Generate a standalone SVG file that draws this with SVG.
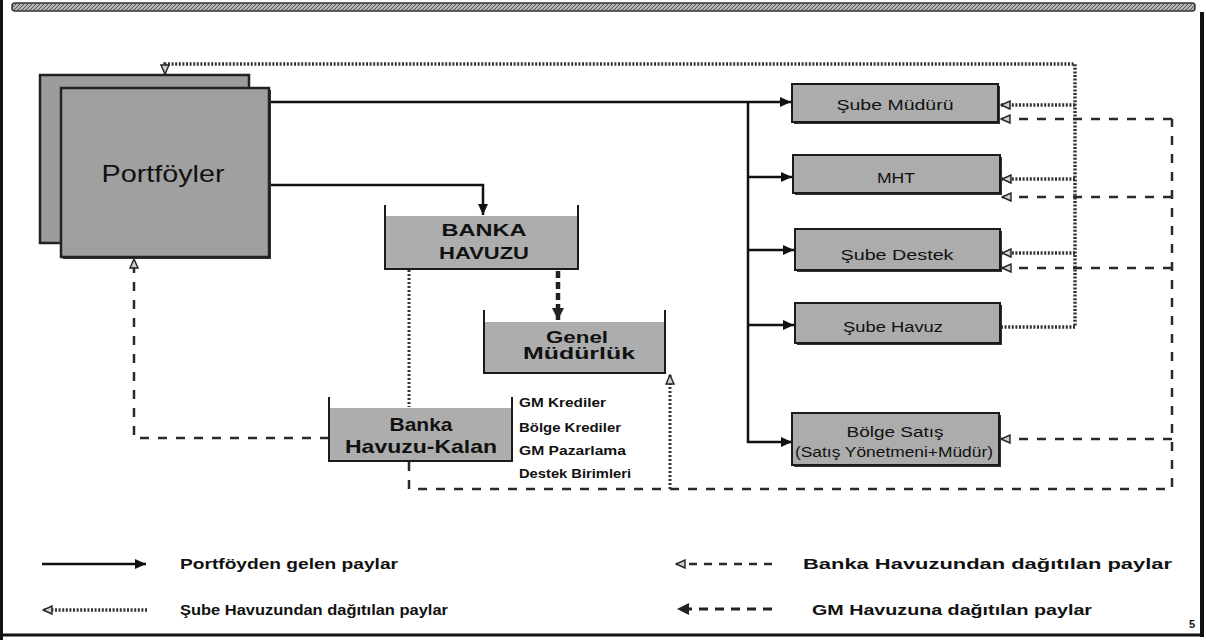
<svg xmlns="http://www.w3.org/2000/svg" width="1206" height="640" viewBox="0 0 1206 640">
  <defs>
    <marker id="arrowSolid" markerUnits="userSpaceOnUse" markerWidth="12" markerHeight="10" refX="11" refY="5" orient="auto">
      <path d="M0,0 L11,5 L0,10 z" fill="#111"/>
    </marker>
    <marker id="arrowHollow" markerUnits="userSpaceOnUse" markerWidth="11" markerHeight="10" refX="10" refY="5" orient="auto">
      <path d="M1,1 L10,5 L1,9 z" fill="#cfcfcf" stroke="#222" stroke-width="1.4"/>
    </marker>
    <marker id="arrowHeavy" markerUnits="userSpaceOnUse" markerWidth="13" markerHeight="12" refX="12" refY="6" orient="auto">
      <path d="M0,0 L12,6 L0,12 z" fill="#222"/>
    </marker>
    <pattern id="hatch" width="4" height="4" patternUnits="userSpaceOnUse">
      <rect width="4" height="4" fill="#b4b4b4"/>
      <path d="M0,4 L4,0" stroke="#555" stroke-width="1"/>
    </pattern>
  </defs>
  <style>
    text { font-family: "Liberation Sans", Arial, sans-serif; fill: #111; }
    .box { fill: #acacac; stroke: #1a1a1a; stroke-width: 2; }
    .shadow { fill: #333; }
    .tank { fill: #adadad; }
    .wall { fill: none; stroke: #1a1a1a; stroke-width: 2; }
    .lbl { font-size: 14px; text-anchor: middle; }
    .blbl { font-weight: bold; text-anchor: middle; }
    .list { font-size: 12.5px; font-weight: bold; }
    .legend { font-size: 14px; font-weight: bold; }
    .solid { fill: none; stroke: #111; stroke-width: 2.5; }
    .dotted { fill: none; stroke: #333; stroke-width: 3.5; stroke-dasharray: 2 1.6; }
    .dashed { fill: none; stroke: #2a2a2a; stroke-width: 2.5; stroke-dasharray: 9 9; }
    .thin { fill: none; stroke: #333; stroke-width: 3; stroke-dasharray: 2 2; }
    .heavy { fill: none; stroke: #222; stroke-width: 4.5; stroke-dasharray: 7 4; }
  </style>

  <!-- page frame -->
  <g id="frame">
    <rect x="12" y="3" width="1183" height="8" rx="3" fill="url(#hatch)" stroke="#333" stroke-width="1.5"/>
    <line x1="1.5" y1="0" x2="1.5" y2="640" stroke="#111" stroke-width="3"/>
    <line x1="0" y1="635" x2="1204" y2="635" stroke="#111" stroke-width="3"/>
    <line x1="1202" y1="12" x2="1202" y2="637" stroke="#111" stroke-width="4"/>
  </g>

  <!-- connectors -->
  <g id="connectors">
    <!-- Portföyden gelen paylar -->
    <path class="solid" d="M269,102 H791" marker-end="url(#arrowSolid)"/>
    <path class="solid" d="M748,102 V442 H792" marker-end="url(#arrowSolid)"/>
    <path class="solid" d="M748,177 H792" marker-end="url(#arrowSolid)"/>
    <path class="solid" d="M748,250 H794" marker-end="url(#arrowSolid)"/>
    <path class="solid" d="M748,325 H794" marker-end="url(#arrowSolid)"/>
    <path class="solid" d="M269,185 H483 V215" marker-end="url(#arrowSolid)"/>

    <!-- Şube Havuzundan dağıtılan paylar -->
    <path class="dotted" d="M1001,327 H1075 V64 H165 V74" marker-end="url(#arrowHollow)"/>
    <path class="dotted" d="M1075,105 H1001" marker-end="url(#arrowHollow)"/>
    <path class="dotted" d="M1075,179 H1002" marker-end="url(#arrowHollow)"/>
    <path class="dotted" d="M1075,253 H1002" marker-end="url(#arrowHollow)"/>

    <!-- Banka Havuzundan dağıtılan paylar -->
    <path class="thin" d="M409,270 V407"/>
    <path class="dashed" d="M409,462 V489 H1172 V119"/>
    <path class="dashed" d="M1172,119 H1001" marker-end="url(#arrowHollow)"/>
    <path class="dashed" d="M1172,197 H1002" marker-end="url(#arrowHollow)"/>
    <path class="dashed" d="M1172,268 H1002" marker-end="url(#arrowHollow)"/>
    <path class="dashed" d="M1172,439 H1001" marker-end="url(#arrowHollow)"/>
    <path class="thin" d="M670,489 V375" marker-end="url(#arrowHollow)"/>
    <path class="dashed" d="M329,438 H134 V259" marker-end="url(#arrowHollow)"/>

    <!-- GM Havuzuna dağıtılan paylar -->
    <path class="heavy" d="M558,271 V320" marker-end="url(#arrowHeavy)"/>
  </g>

  <!-- Portföyler (stacked) -->
  <g id="node-portfoyler">
    <rect x="40" y="75" width="209" height="168" fill="#9c9c9c" stroke="#222" stroke-width="2.5"/>
    <rect x="63" y="90" width="208" height="169" class="shadow"/>
    <rect x="61" y="88" width="208" height="169" fill="#a0a0a0" stroke="#222" stroke-width="2.5"/>
    <text x="163" y="182" font-size="24" text-anchor="middle" textLength="123" lengthAdjust="spacingAndGlyphs">Portföyler</text>
  </g>

  <!-- BANKA HAVUZU -->
  <g id="node-banka-havuzu">
    <rect class="tank" x="385" y="216" width="193" height="53"/>
    <path class="wall" d="M385,205 V269 H578 V205"/>
    <text class="blbl" x="484" y="236" font-size="17" textLength="85" lengthAdjust="spacingAndGlyphs">BANKA</text>
    <text class="blbl" x="484" y="259" font-size="17" textLength="90" lengthAdjust="spacingAndGlyphs">HAVUZU</text>
  </g>

  <!-- Genel Müdürlük -->
  <g id="node-genel-mudurluk">
    <rect class="tank" x="484" y="322" width="181" height="51"/>
    <path class="wall" d="M484,310 V373 H665 V310"/>
    <text class="blbl" x="577" y="343" font-size="16" textLength="62" lengthAdjust="spacingAndGlyphs">Genel</text>
    <text class="blbl" x="579" y="359" font-size="16" textLength="112" lengthAdjust="spacingAndGlyphs">Müdürlük</text>
  </g>

  <!-- Banka Havuzu-Kalan -->
  <g id="node-banka-havuzu-kalan">
    <rect class="tank" x="329" y="408" width="183" height="53"/>
    <path class="wall" d="M329,397 V461 H512 V397"/>
    <text class="blbl" x="421" y="431" font-size="19" textLength="63" lengthAdjust="spacingAndGlyphs">Banka</text>
    <text class="blbl" x="421" y="453" font-size="19" textLength="152" lengthAdjust="spacingAndGlyphs">Havuzu-Kalan</text>
  </g>

  <!-- GM cost units -->
  <g id="node-gm-list">
    <text class="list" x="519" y="407" textLength="87" lengthAdjust="spacingAndGlyphs">GM Krediler</text>
    <text class="list" x="519" y="432" textLength="102" lengthAdjust="spacingAndGlyphs">Bölge Krediler</text>
    <text class="list" x="519" y="455" textLength="107" lengthAdjust="spacingAndGlyphs">GM Pazarlama</text>
    <text class="list" x="519" y="478" textLength="112" lengthAdjust="spacingAndGlyphs">Destek Birimleri</text>
  </g>

  <!-- branch units -->
  <g id="node-sube-muduru">
    <rect class="shadow" x="794" y="86" width="206" height="38"/>
    <rect class="box" x="792" y="84" width="206" height="38"/>
    <text class="lbl" x="895" y="110" textLength="117" lengthAdjust="spacingAndGlyphs">Şube Müdürü</text>
  </g>
  <g id="node-mht">
    <rect class="shadow" x="795" y="157" width="207" height="38"/>
    <rect class="box" x="793" y="155" width="207" height="38"/>
    <text class="lbl" x="896" y="183" textLength="38" lengthAdjust="spacingAndGlyphs">MHT</text>
  </g>
  <g id="node-sube-destek">
    <rect class="shadow" x="797" y="231" width="205" height="41"/>
    <rect class="box" x="795" y="229" width="205" height="41"/>
    <text class="lbl" x="897" y="260" textLength="113" lengthAdjust="spacingAndGlyphs">Şube Destek</text>
  </g>
  <g id="node-sube-havuz">
    <rect class="shadow" x="797" y="305" width="205" height="40"/>
    <rect class="box" x="795" y="303" width="205" height="40"/>
    <text class="lbl" x="893" y="332" textLength="100" lengthAdjust="spacingAndGlyphs">Şube Havuz</text>
  </g>
  <g id="node-bolge-satis">
    <rect class="shadow" x="794" y="415" width="207" height="52"/>
    <rect class="box" x="792" y="413" width="207" height="52"/>
    <text class="lbl" x="895" y="437" font-size="15" textLength="97" lengthAdjust="spacingAndGlyphs">Bölge Satış</text>
    <text class="lbl" x="894" y="457" font-size="11" textLength="198" lengthAdjust="spacingAndGlyphs">(Satış Yönetmeni+Müdür)</text>
  </g>

  <!-- legend -->
  <g id="legend">
    <path class="solid" d="M42,564 H146" marker-end="url(#arrowSolid)"/>
    <text class="legend" x="180" y="569" textLength="218" lengthAdjust="spacingAndGlyphs">Portföyden gelen paylar</text>
    <path class="dotted" d="M147,610 H43" marker-end="url(#arrowHollow)"/>
    <text class="legend" x="180" y="615" textLength="268" lengthAdjust="spacingAndGlyphs">Şube Havuzundan dağıtılan paylar</text>
    <path class="dashed" style="stroke-dasharray:8 7" d="M772,564 H676" marker-end="url(#arrowHollow)"/>
    <text class="legend" x="803" y="569" textLength="369" lengthAdjust="spacingAndGlyphs">Banka Havuzundan dağıtılan paylar</text>
    <path class="heavy" style="stroke-width:3;stroke-dasharray:9 7" d="M772,609 H677" marker-end="url(#arrowHeavy)"/>
    <text class="legend" x="812" y="615" textLength="280" lengthAdjust="spacingAndGlyphs">GM Havuzuna dağıtılan paylar</text>
    <text x="1192" y="628" font-size="11" font-weight="bold" text-anchor="middle">5</text>
  </g>
</svg>
